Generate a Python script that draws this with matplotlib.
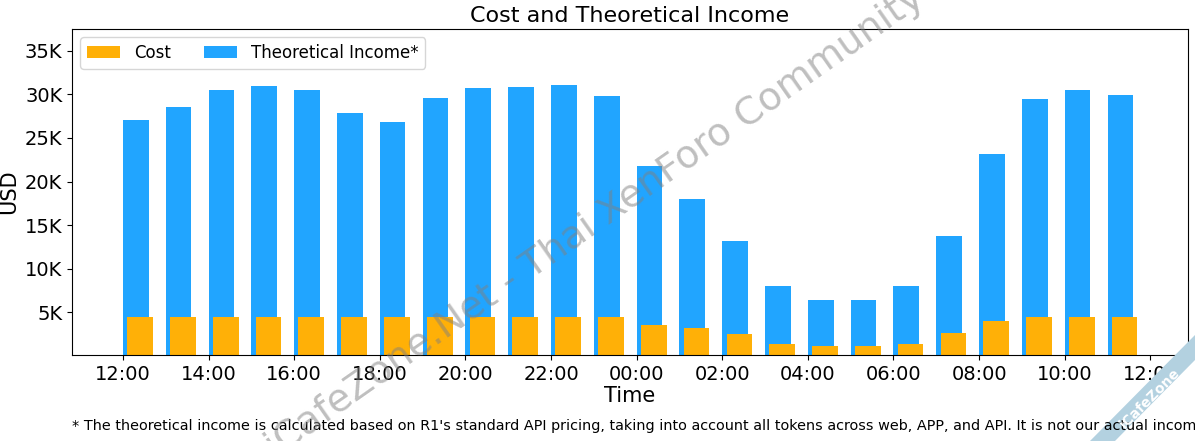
import matplotlib

matplotlib.use('agg')
import matplotlib.pyplot as plt
from matplotlib.patches import Polygon
from matplotlib.ticker import FuncFormatter

hours = list(range(24))
income = [27.05, 28.5, 30.5, 30.95, 30.5, 27.85, 26.8, 29.6, 30.7, 30.85, 31.05, 29.8,
          21.8, 18.0, 13.2, 8.0, 6.4, 6.4, 8.0, 13.8, 23.2, 29.5, 30.5, 29.9]
cost = [4.45, 4.45, 4.45, 4.45, 4.45, 4.45, 4.45, 4.45, 4.45, 4.45, 4.45, 4.45,
        3.5, 3.2, 2.5, 1.35, 1.15, 1.15, 1.35, 2.6, 4.0, 4.45, 4.45, 4.45]
tick_hours = [0, 2, 4, 6, 8, 10, 12, 14, 16, 18, 20, 22, 24]
tick_labels = ['12:00', '14:00', '16:00', '18:00', '20:00', '22:00', '00:00',
               '02:00', '04:00', '06:00', '08:00', '10:00', '12:00']

note = ("* The theoretical income is calculated based on R1's standard API pricing, "
        "taking into account all tokens across web, APP, and API. It is not our actual income.")

fig = plt.figure(figsize=(11.95, 4.41), dpi=100)
ax = fig.add_axes([72 / 1195, 1 - 355 / 441, (1188 - 72) / 1195, (355 - 29) / 441])

ax.bar(hours, income, width=0.6, align='edge', color='#21a5ff', label='Theoretical Income*')
ax.bar([h + 0.1 for h in hours], cost, width=0.6, align='edge', color='#ffb007', label='Cost')

ax.set_xlim(-1.19, 24.88)
ax.set_ylim(0.1, 37.5)
ax.set_yticks([5, 10, 15, 20, 25, 30, 35])
ax.yaxis.set_major_formatter(FuncFormatter(lambda v, p: '%dK' % v))
ax.set_xticks(tick_hours)
ax.set_xticklabels(tick_labels)
ax.tick_params(labelsize=14)
ax.set_title('Cost and Theoretical Income', fontsize=16, pad=5)
ax.set_xlabel('Time', fontsize=15, labelpad=2)
ax.set_ylabel('USD', fontsize=15, labelpad=4)

handles, labels = ax.get_legend_handles_labels()
ax.legend(handles[::-1], labels[::-1], ncol=2, loc='upper left', fontsize=12)

fig.text(72 / 1195, 1 - 426 / 441, note, fontsize=10.4, va='center')

# watermarks
fig.text(595 / 1195, 1 - 222 / 441, 'iCafeZone.Net - Thai XenForo Community', fontsize=27.5,
         color='gray', alpha=0.5, rotation=35, ha='center', va='center', rotation_mode='anchor')
fig.add_artist(Polygon([[1090 / 1195, 0], [1115 / 1195, 0], [1, 1 - 360 / 441], [1, 1 - 335 / 441]],
                       closed=True, transform=fig.transFigure, color='#b3d1e0', lw=0))
fig.text(1150 / 1195, 1 - 398 / 441, 'iCafeZone', fontsize=10, fontweight='bold', color='white',
         rotation=45, ha='center', va='center', rotation_mode='anchor')

plt.savefig('out.png')
